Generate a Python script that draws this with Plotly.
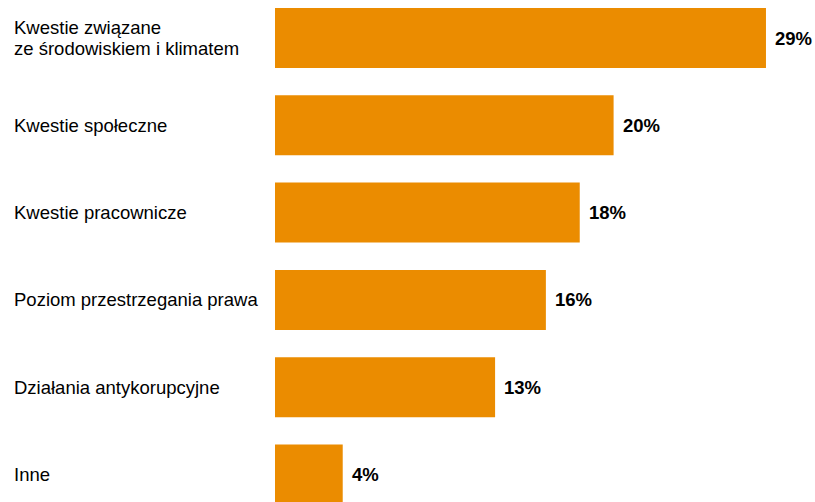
import plotly.graph_objects as go

categories = ["Kwestie związane\nze środowiskiem i klimatem", "Kwestie społeczne",
              "Kwestie pracownicze", "Poziom przestrzegania prawa",
              "Działania antykorupcyjne", "Inne"]
values = [29, 20, 18, 16, 13, 4]
value_labels = ["29%", "20%", "18%", "16%", "13%", "4%"]

FONT = "Liberation Sans, Arial, sans-serif"
FS = 18.5
W, H = 815, 502
L = 275
px_per_unit = 16.93
spacing = 87.3
first_center = 38
line_gap = 21

idx = list(range(len(categories)))
fig = go.Figure(go.Bar(
    x=values, y=idx, orientation="h",
    marker=dict(color="#EB8C00", line=dict(width=0)),
    width=0.687, hoverinfo="skip",
))

for i, (c, v, t) in enumerate(zip(categories, values, value_labels)):
    fig.add_annotation(x=v, y=i, xref="x", yref="y", text="<b>" + t + "</b>",
                       showarrow=False, xanchor="left", xshift=7,
                       font=dict(family=FONT, size=FS, color="#000000"))
    lines = c.split("\n")
    n = len(lines)
    for k, line in enumerate(lines):
        fig.add_annotation(x=(12 - L) / (W - L), y=i, xref="paper", yref="y", text=line,
                           showarrow=False, xanchor="left", align="left",
                           yshift=((n - 1) / 2 - k) * line_gap,
                           font=dict(family=FONT, size=FS, color="#000000"))

top = -first_center / spacing
bottom = top + H / spacing
fig.update_layout(
    width=W, height=H,
    margin=dict(l=L, r=0, t=0, b=0),
    paper_bgcolor="white", plot_bgcolor="white",
    showlegend=False,
    xaxis=dict(range=[0, (W - L) / px_per_unit], visible=False, fixedrange=True),
    yaxis=dict(range=[bottom, top], visible=False, fixedrange=True),
)
fig.write_html("out.html")
